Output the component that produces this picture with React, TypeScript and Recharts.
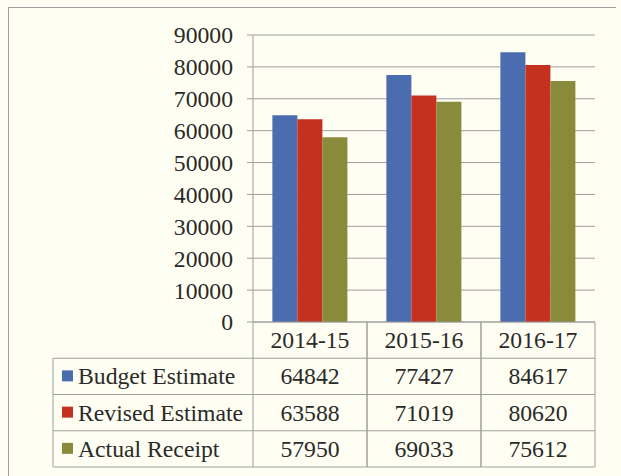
import { BarChart, Bar, XAxis, YAxis, CartesianGrid } from "recharts";

const years = ["2014-15", "2015-16", "2016-17"];
const budgetEstimate = [64842, 77427, 84617];
const revisedEstimate = [63588, 71019, 80620];
const actualReceipt = [57950, 69033, 75612];
const yTicks = [0, 10000, 20000, 30000, 40000, 50000, 60000, 70000, 80000, 90000];

const SERIES = [
  { key: "budget", name: "Budget Estimate", color: "#4b6db0", values: budgetEstimate },
  { key: "revised", name: "Revised Estimate", color: "#c5311f", values: revisedEstimate },
  { key: "actual", name: "Actual Receipt", color: "#8a8a3b", values: actualReceipt },
];

const data = years.map((year, i) => ({
  year,
  budget: budgetEstimate[i],
  revised: revisedEstimate[i],
  actual: actualReceipt[i],
}));

const W = 621;
const H = 476;
const M = { top: 35, right: 26, bottom: 9, left: 0 };
const Y_W = 253;
const TABLE_H = 145;
const TABLE_LEFT = 53;
const COL_W = (W - M.right - M.left - Y_W) / years.length;
const ROW_H = TABLE_H / 4;
const FONT = "Liberation Serif, Times New Roman, serif";
const FS = 23.7;
const TEXT = "#2a2a2a";
const LINE = "#9f9f9f";
const BG = "#fefef2";
const txt = { fontFamily: FONT, fontSize: FS, fill: TEXT };

// x axis ticks draw the data table: one column per year, row labels on the first
function TableTick(props: any) {
  const { x, y, payload } = props;
  const i = payload.index;
  const half = COL_W / 2;
  const rows = SERIES.map((s) => s.values[i]);
  return (
    <g>
      <line x1={x - half} x2={x - half} y1={y} y2={y + TABLE_H} stroke={LINE} />
      <line x1={x + half} x2={x + half} y1={y} y2={y + TABLE_H} stroke={LINE} />
      {[1, 2, 3, 4].map((k) => (
        <line key={k} x1={x - half} x2={x + half} y1={y + ROW_H * k} y2={y + ROW_H * k} stroke={LINE} />
      ))}
      <text x={x} y={y + ROW_H / 2 + 8} textAnchor="middle" style={txt}>
        {payload.value}
      </text>
      {rows.map((v, r) => (
        <text key={r} x={x} y={y + ROW_H * (r + 1.5) + 8} textAnchor="middle" style={txt}>
          {v}
        </text>
      ))}
      {i === 0 && (
        <g>
          <line x1={TABLE_LEFT} x2={TABLE_LEFT} y1={y + ROW_H} y2={y + TABLE_H} stroke={LINE} />
          {[1, 2, 3, 4].map((k) => (
            <line key={k} x1={TABLE_LEFT} x2={x - half} y1={y + ROW_H * k} y2={y + ROW_H * k} stroke={LINE} />
          ))}
          {SERIES.map((s, r) => (
            <g key={s.key}>
              <rect x={TABLE_LEFT + 9} y={y + ROW_H * (r + 1.5) - 6} width={11} height={11} fill={s.color} />
              <text x={TABLE_LEFT + 25} y={y + ROW_H * (r + 1.5) + 8} style={txt}>
                {s.name}
              </text>
            </g>
          ))}
        </g>
      )}
    </g>
  );
}

export default function App() {
  return (
    <div style={{ position: "absolute", left: 0, top: 0, width: W, height: H, background: BG, overflow: "hidden", fontFamily: FONT }}>
      <div
        style={{
          position: "absolute",
          left: 8,
          top: 7,
          width: 607,
          height: H,
          borderTop: `1px solid ${LINE}`,
          borderLeft: `1px solid ${LINE}`,
        }}
      />
      <div style={{ position: "absolute", left: 0, top: 0 }}>
        <BarChart width={W} height={H} data={data} margin={M} barCategoryGap="17%" barGap={0} style={{ fontFamily: FONT }}>
          <CartesianGrid vertical={false} stroke={LINE} />
          <XAxis
            dataKey="year"
            height={TABLE_H}
            tickSize={0}
            tickMargin={0}
            tickLine={false}
            axisLine={{ stroke: LINE }}
            tick={<TableTick />}
            interval={0}
          />
          <YAxis
            width={Y_W}
            domain={[0, 90000]}
            ticks={yTicks}
            interval={0}
            tickSize={6}
            tickMargin={14}
            tickLine={{ stroke: LINE }}
            axisLine={{ stroke: LINE }}
            tick={{ fill: TEXT, fontSize: FS, style: { fontFamily: FONT } }}
          />
          {SERIES.map((s) => (
            <Bar key={s.key} dataKey={s.key} name={s.name} fill={s.color} isAnimationActive={false} />
          ))}
        </BarChart>
      </div>
    </div>
  );
}
